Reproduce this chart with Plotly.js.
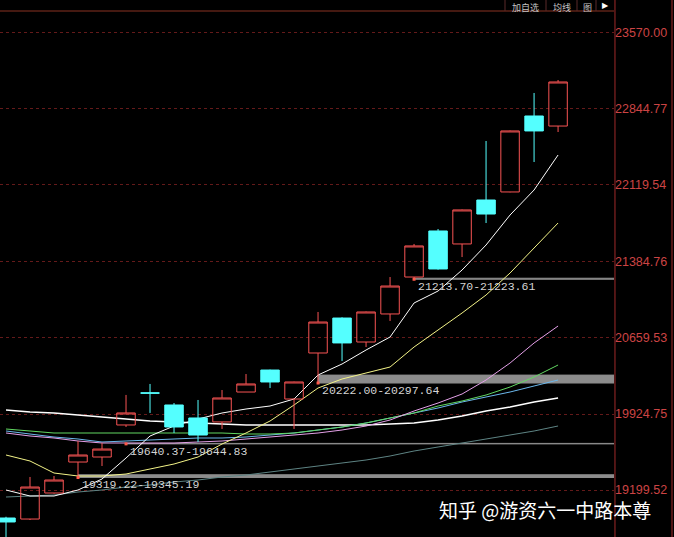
<!DOCTYPE html>
<html><head><meta charset="utf-8">
<script src="https://cdn.plot.ly/plotly-3.0.1.min.js"></script>
<style>html,body{margin:0;padding:0;background:#000;overflow:hidden}#chart{width:674px;height:537px}</style>
</head><body><div id="chart"></div>
<script>
// trading-day index of each candle
const days  = [0,1,2,3,4,5,6,7,8,9,10,11,12,13,14,15,16,17,18,19,20,21,22,23];
const open  = [18932,18922,19171,19467,19515,19821,20128,20012,19888,19850,20136,20346,20069,20509,20843,20614,20882,21235,21675,21551,21971,22048,22774,22678];
const high  = [18944,19324,19333,19668,19649,20108,20213,20031,20060,20155,20308,20350,20235,20901,20850,20905,21235,21551,21694,21880,22535,22635,22994,23118];
const low   = [18700,18913,19165,19319,19429,19802,19936,19744,19658,19783,20136,20174,19783,20222,20432,20566,20815,21214,21305,21426,21751,22045,22334,22621];
const close = [18894,19228,19295,19534,19591,19936,20125,19802,19725,20079,20213,20232,20232,20805,20605,20901,21149,21532,21312,21876,21837,22631,22631,23099];

// moving averages
const maWhite  = [19199.6,19142.2,19142.2,19199.6,19304.7,19505.4,19715.6,19811.2,19878.1,19935.5,19973.7,20002.4,20069.3,20298.6,20403.8,20537.5,20661.8,20986.7,21101.4,21302.1,21541.0,21827.7,22066.7,22401.2];
const maYellow = [19534.1,19476.7,19362.0,19333.4,19333.4,19352.5,19400.3,19448.1,19515.0,19639.2,19744.3,19859.0,20011.9,20174.4,20260.4,20317.7,20375.1,20566.2,20728.7,20891.2,21063.2,21273.4,21512.4,21751.3];
const maPink   = [19744.3,19715.6,19696.5,19667.9,19648.7,19648.7,19648.7,19648.7,19658.3,19667.9,19687.0,19706.1,19725.2,19744.3,19773.0,19811.2,19868.6,19954.6,20031.0,20117.0,20250.8,20413.3,20604.4,20766.9];
const maGreen  = [19782.5,19763.4,19744.3,19744.3,19744.3,19744.3,19744.3,19744.3,19744.3,19744.3,19734.8,19734.8,19744.3,19773.0,19801.7,19839.9,19887.7,19935.5,20002.4,20050.1,20107.5,20183.9,20279.5,20394.2];
const maBlue   = [19763.4,19734.8,19706.1,19687.0,19658.3,19667.9,19677.4,19687.0,19696.5,19696.5,19706.1,19725.2,19744.3,19773.0,19801.7,19839.9,19887.7,19935.5,19983.2,20040.6,20088.4,20136.2,20193.5,20250.8];
const maBold   = [19964.1,19945.0,19935.5,19916.3,19897.2,19878.1,19859.0,19849.4,19839.9,19830.3,19820.8,19820.8,19820.8,19820.8,19820.8,19820.8,19830.3,19839.9,19868.6,19906.8,19954.6,19992.8,20040.6,20078.8];
const maGray   = [19132.7,19142.2,19151.8,19180.5,19199.6,19228.2,19247.4,19276.0,19295.1,19323.8,19342.9,19371.6,19400.3,19428.9,19457.6,19486.3,19524.5,19572.3,19610.5,19648.7,19687.0,19725.2,19763.4,19811.2];

// support / resistance zones
const zoneStart = [17, 13, 5, 3];
const zoneLow   = [21213.70, 20222.00, 19640.37, 19319.22];
const zoneHigh  = [21223.61, 20297.64, 19644.83, 19345.19];

// axis ticks
const yTicks = [23570.00, 22844.77, 22119.54, 21384.76, 20659.53, 19924.75, 19199.52];
const buttons = ['加自选', '均线', '图'];
const watermark = '知乎 @游资六一中路本尊';

const yRange = [18750.4, 23777.4];

function maTrace(y, color, width) {
  return {type:'scatter', mode:'lines', x:days, y:y, line:{color:color, width:width}, hoverinfo:'skip'};
}

const data = [
  maTrace(maGray,   '#5e8484', 1),
  maTrace(maBold,   '#ffffff', 1.6),
  maTrace(maBlue,   '#6cb8ec', 1),
  maTrace(maGreen,  '#62d862', 1),
  maTrace(maPink,   '#e4a0e8', 1),
  maTrace(maYellow, '#f4f488', 1),
  maTrace(maWhite,  '#ffffff', 1),
  {
    type:'candlestick', x:days, open:open, high:high, low:low, close:close,
    xaxis:'x', yaxis:'y2', whiskerwidth:0,
    increasing:{line:{color:'#f85454', width:1}, fillcolor:'rgba(0,0,0,0)'},
    decreasing:{line:{color:'#54ffff', width:1}, fillcolor:'#54ffff'},
    hoverinfo:'skip'
  },
  {
    type:'scatter', mode:'markers', x:zoneStart, y:zoneLow, xaxis:'x', yaxis:'y2',
    marker:{size:3, color:'#ff5a4a', symbol:'square'}, hoverinfo:'skip'
  }
];

const shapes = [];
zoneStart.forEach((s, k) => {
  shapes.push({type:'rect', xref:'x', yref:'y', x0:s, x1:26, y0:zoneLow[k], y1:zoneHigh[k],
    fillcolor:'#8c8c8c', line:{color:'#8c8c8c', width:1}, layer:'below'});
});
const topY = 1 + 11/526;
shapes.push({type:'line', xref:'paper', yref:'paper', x0:0, x1:1, y0:1, y1:1, line:{color:'#8a3322', width:1}});
shapes.push({type:'line', xref:'paper', yref:'paper', x0:1.0016, x1:1.0016, y0:0, y1:topY, line:{color:'#a02a2a', width:1}});
shapes.push({type:'line', xref:'paper', yref:'paper', x0:672/614, x1:672/614, y0:0, y1:topY, line:{color:'#a02a2a', width:1}});
[505, 546, 577, 596].forEach(px => {
  shapes.push({type:'line', xref:'paper', yref:'paper', x0:px/614, x1:px/614, y0:1, y1:topY, line:{color:'#5a2a2a', width:1}});
});

const annotations = [];
const btnX = [525, 562, 587];
buttons.forEach((b, k) => {
  annotations.push({text:b, xref:'paper', yref:'paper', x:btnX[k]/614, y:topY, xanchor:'center', yanchor:'top',
    showarrow:false, borderpad:0, font:{family:'Noto Sans CJK SC, sans-serif', size:9, color:'#c4c4c4'}});
});
annotations.push({text:'▶', xref:'paper', yref:'paper', x:605/614, y:topY, xanchor:'center', yanchor:'top',
  showarrow:false, borderpad:0, font:{family:'DejaVu Sans', size:8, color:'#ffffff'}});
zoneStart.forEach((s, k) => {
  annotations.push({text:zoneLow[k].toFixed(2) + '-' + zoneHigh[k].toFixed(2), xref:'x', yref:'y', x:s, y:zoneLow[k],
    xanchor:'left', yanchor:'top', xshift:2, yshift:1, showarrow:false,
    font:{family:'Liberation Mono, monospace', size:11.5, color:'#d4d4d4'}});
});
annotations.push({text:watermark, xref:'paper', yref:'paper', x:438/614, y:(537-509)/526, xanchor:'left', yanchor:'middle',
  showarrow:false, borderpad:0, font:{family:'Noto Sans CJK SC, sans-serif', size:19, color:'#ffffff'}});

const layout = {
  width:674, height:537,
  margin:{l:0, r:60, t:11, b:0, pad:0},
  paper_bgcolor:'#000000', plot_bgcolor:'#000000',
  showlegend:false, hovermode:false,
  boxgap:0.23, boxgroupgap:0,
  xaxis:{range:[-0.25, 25.33], showgrid:false, zeroline:false, showticklabels:false, ticks:'', showline:false,
    rangeslider:{visible:false}, fixedrange:true},
  yaxis:{range:yRange, side:'right', tickvals:yTicks, ticktext:yTicks.map(v => v.toFixed(2)),
    tickfont:{family:'Liberation Sans, Arial, sans-serif', size:12.5, color:'#cc4444'},
    showgrid:true, gridcolor:'#641a1a', griddash:'dot', gridwidth:1, zeroline:false, showline:false, ticks:'', fixedrange:true},
  yaxis2:{range:yRange, overlaying:'y', side:'right', visible:false, fixedrange:true},
  shapes:shapes,
  annotations:annotations
};

Plotly.newPlot('chart', data, layout, {displayModeBar:false, staticPlot:true});
</script>
</body></html>
